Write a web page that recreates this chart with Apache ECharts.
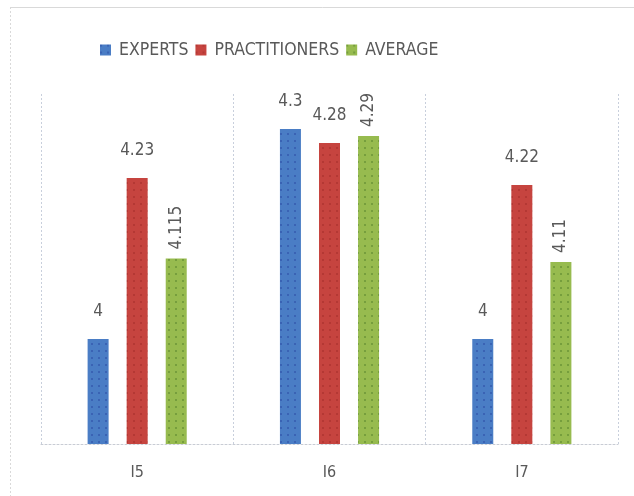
<!DOCTYPE html>
<html>
<head>
<meta charset="utf-8">
<script src="https://cdn.jsdelivr.net/npm/echarts@6/dist/echarts.min.js"></script>
<style>html,body{margin:0;padding:0;background:#fff;}#c{width:634px;height:496px;}</style>
</head>
<body>
<div id="c"></div>
<script>
const categories = ['I5', 'I6', 'I7'];
const experts = [4, 4.3, 4];
const practitioners = [4.23, 4.28, 4.22];
const average = [4.115, 4.29, 4.11];

const FONT = '"DejaVu Sans Condensed", "DejaVu Sans", sans-serif';
const TXT = '#595959';

function deco(c) {
  return { symbol: 'circle', symbolSize: 1, color: c, dashArrayX: [1.2, 4.3], dashArrayY: [1.2, 4.3], rotation: 0 };
}
const horizLabel = { show: true, position: 'top', distance: 19, color: TXT, fontSize: 17, fontFamily: FONT };
const vertLabel = { show: true, position: 'top', distance: 9, rotate: 90, align: 'left', verticalAlign: 'middle', color: TXT, fontSize: 17, fontFamily: FONT };

const chart = echarts.init(document.getElementById('c'), null, { renderer: 'canvas' });
chart.setOption({
  animation: false,
  backgroundColor: '#fff',
  legend: {
    top: 36, left: 95,
    itemWidth: 11, itemHeight: 11, itemGap: 7,
    icon: 'rect',
    textStyle: { color: TXT, fontSize: 17.5, fontFamily: FONT, padding: [0, 0, 0, 3] },
    data: ['EXPERTS', 'PRACTITIONERS', 'AVERAGE']
  },
  graphic: [
    { type: 'line', shape: { x1: 10, y1: 7.5, x2: 640, y2: 7.5 }, style: { stroke: '#d9d9d9', lineWidth: 1 }, silent: true },
    { type: 'line', shape: { x1: 10.5, y1: 7, x2: 10.5, y2: 500 }, style: { stroke: '#d9d9d9', lineWidth: 1, lineDash: [2, 2] }, silent: true }
  ],
  grid: { left: 41, right: 16, top: 94, bottom: 52 },
  xAxis: {
    type: 'category',
    data: categories,
    boundaryGap: true,
    axisLine: { show: true, lineStyle: { color: '#c8ccd4', type: [2, 2], width: 1 } },
    axisTick: { show: false },
    splitLine: { show: true, lineStyle: { color: '#c8cfdc', type: [2, 2], width: 1 } },
    axisLabel: { color: TXT, fontSize: 16, fontFamily: FONT, margin: 21 }
  },
  yAxis: {
    type: 'value', min: 3.85, max: 4.35, show: false,
    splitLine: { show: false }
  },
  series: [
    { name: 'EXPERTS', type: 'bar', data: experts, barWidth: 21, barGap: '86%',
      itemStyle: { color: '#4a7dc5', decal: deco('rgba(20,40,140,0.4)') }, label: horizLabel },
    { name: 'PRACTITIONERS', type: 'bar', data: practitioners, barWidth: 21, barGap: '86%',
      itemStyle: { color: '#c6443f', decal: deco('rgba(120,20,20,0.3)') }, label: horizLabel },
    { name: 'AVERAGE', type: 'bar', data: average, barWidth: 21, barGap: '86%',
      itemStyle: { color: '#97bb4f', decal: deco('rgba(40,90,20,0.4)') }, label: vertLabel }
  ]
});
</script>
</body>
</html>
